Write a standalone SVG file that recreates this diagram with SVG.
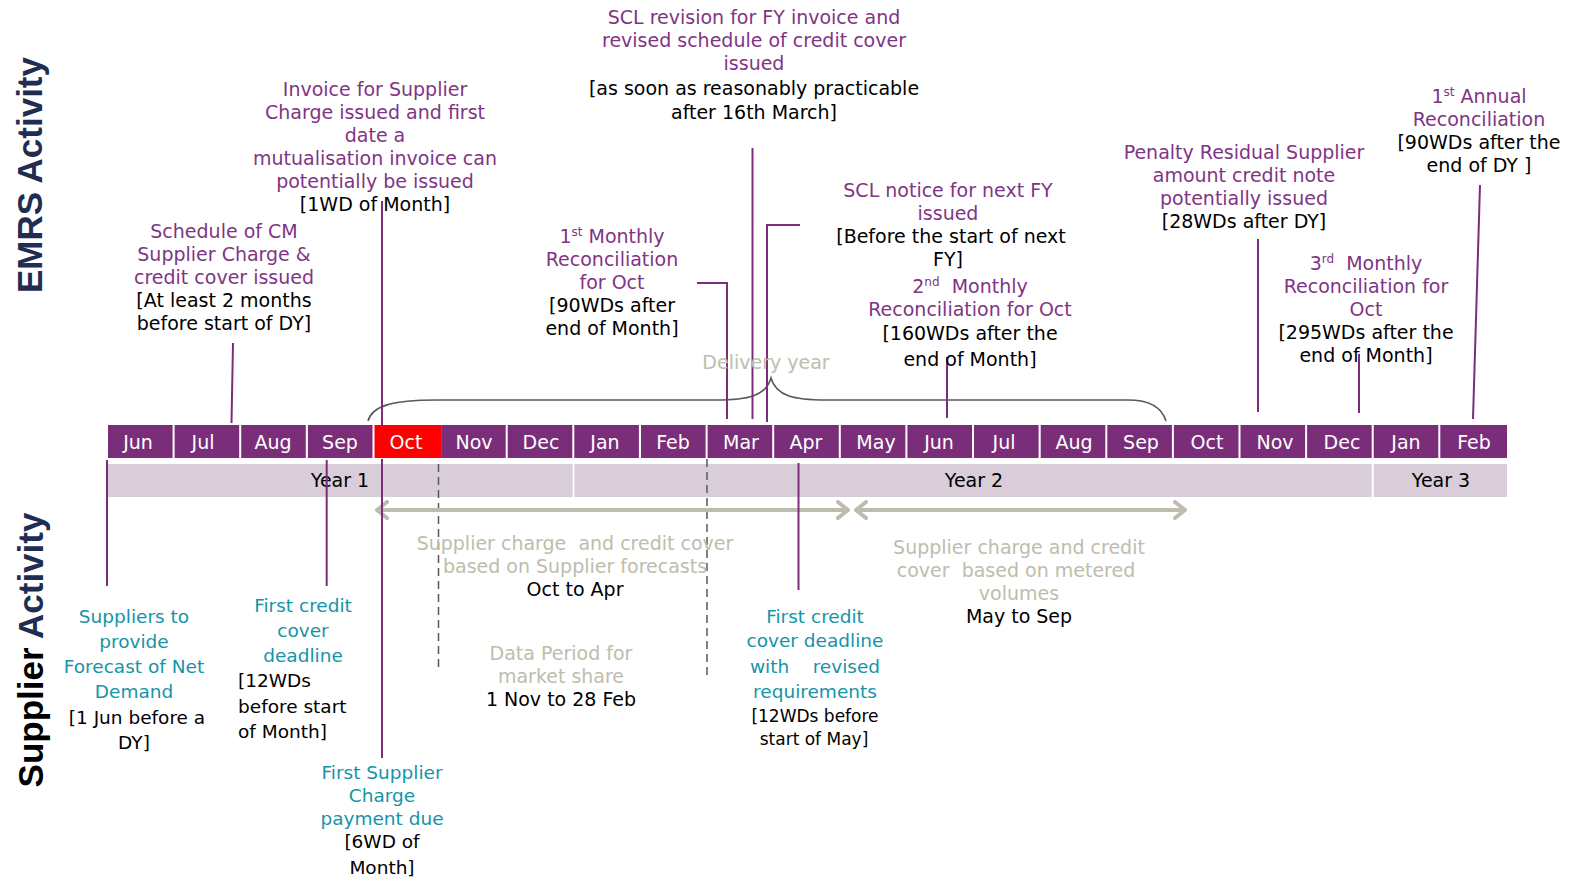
<svg xmlns="http://www.w3.org/2000/svg" width="1570" height="881" viewBox="0 0 1570 881">
<style>
text{font-family:"DejaVu Sans",Verdana,sans-serif;font-size:19px;text-anchor:middle}
.p{fill:#7f3584}.k{fill:#000}.t{fill:#1594a8;font-size:18.5px}.kt{fill:#000;font-size:18.5px}.g{fill:#bdbdad}
.m{fill:#7a2e7a}.mr{fill:#ff0000}.ml{fill:#fff}.y{fill:#d8cdd8}
.side{font-family:"Liberation Sans",Arial,sans-serif;font-weight:bold;font-size:35px}
.v{stroke:#7a2e7a;stroke-width:2;fill:none}
.br{stroke:#595959;stroke-width:1.6;fill:none}
.ds{stroke:#595959;stroke-width:1.5;stroke-dasharray:8,5;fill:none}
.ar{stroke:#bdbdad;stroke-width:4;fill:none}
.sup{font-size:12px}
</style>
<defs>
<marker id="ah" viewBox="0 0 14 20" refX="13" refY="10" markerWidth="14" markerHeight="20" markerUnits="userSpaceOnUse" orient="auto-start-reverse">
<path d="M2,2 L12,10 L2,18" fill="none" stroke="#bdbdad" stroke-width="4" stroke-linecap="round" stroke-linejoin="round"/>
</marker>
</defs>
<rect width="1570" height="881" fill="#fff"/>

<g id="side-labels">
<text class="side" transform="translate(42,175) rotate(-90)" fill="#1f2d52">EMRS Activity</text>
<text class="side" transform="translate(43,650) rotate(-90)"><tspan fill="#000">Supplier</tspan><tspan fill="#1f2d52"> Activity</tspan></text>
</g>

<g id="timeline">
<g id="months">
<rect class="m" x="108" y="425" width="64.6" height="33"/>
<rect class="m" x="174.6" y="425" width="64.6" height="33"/>
<rect class="m" x="241.2" y="425" width="64.6" height="33"/>
<rect class="m" x="307.9" y="425" width="64.6" height="33"/>
<rect class="mr" x="374.5" y="425" width="66.6" height="33"/>
<rect class="m" x="441.1" y="425" width="64.6" height="33"/>
<rect class="m" x="507.7" y="425" width="64.6" height="33"/>
<rect class="m" x="574.3" y="425" width="64.6" height="33"/>
<rect class="m" x="641" y="425" width="64.6" height="33"/>
<rect class="m" x="707.6" y="425" width="64.6" height="33"/>
<rect class="m" x="774.2" y="425" width="64.6" height="33"/>
<rect class="m" x="840.8" y="425" width="64.6" height="33"/>
<rect class="m" x="907.4" y="425" width="64.6" height="33"/>
<rect class="m" x="974" y="425" width="64.6" height="33"/>
<rect class="m" x="1040.7" y="425" width="64.6" height="33"/>
<rect class="m" x="1107.3" y="425" width="64.6" height="33"/>
<rect class="m" x="1173.9" y="425" width="64.6" height="33"/>
<rect class="m" x="1240.5" y="425" width="64.6" height="33"/>
<rect class="m" x="1307.1" y="425" width="64.6" height="33"/>
<rect class="m" x="1373.7" y="425" width="64.6" height="33"/>
<rect class="m" x="1440.3" y="425" width="66.7" height="33"/>
<text class="ml" x="138" y="449">Jun</text>
<text class="ml" x="203" y="449">Jul</text>
<text class="ml" x="273" y="449">Aug</text>
<text class="ml" x="340" y="449">Sep</text>
<text class="ml" x="406" y="449">Oct</text>
<text class="ml" x="474" y="449">Nov</text>
<text class="ml" x="541" y="449">Dec</text>
<text class="ml" x="605" y="449">Jan</text>
<text class="ml" x="673" y="449">Feb</text>
<text class="ml" x="741" y="449">Mar</text>
<text class="ml" x="806" y="449">Apr</text>
<text class="ml" x="876" y="449">May</text>
<text class="ml" x="939" y="449">Jun</text>
<text class="ml" x="1004" y="449">Jul</text>
<text class="ml" x="1074" y="449">Aug</text>
<text class="ml" x="1141" y="449">Sep</text>
<text class="ml" x="1207" y="449">Oct</text>
<text class="ml" x="1275" y="449">Nov</text>
<text class="ml" x="1342" y="449">Dec</text>
<text class="ml" x="1406" y="449">Jan</text>
<text class="ml" x="1474" y="449">Feb</text>
</g>
<g id="years">
<rect class="y" x="108" y="464" width="464.6" height="33"/>
<rect class="y" x="574.3" y="464" width="797.4" height="33"/>
<rect class="y" x="1373.7" y="464" width="133.3" height="33"/>
<text class="k" x="340" y="487">Year 1</text>
<text class="k" x="974" y="487">Year 2</text>
<text class="k" x="1441" y="487">Year 3</text>
</g>
</g>

<g id="connectors">
<path class="br" d="M368,421 C372,406 392,400 436,400 L716,400 C748,400 766,396 771,378 C776,396 794,400 826,400 L1128,400 C1150,400 1162,408 1166,421"/>
<line class="ds" x1="438.5" y1="464" x2="438.5" y2="668"/>
<line class="ds" x1="707" y1="459" x2="707" y2="678"/>
<line class="ar" x1="376" y1="510" x2="849" y2="510" marker-start="url(#ah)" marker-end="url(#ah)"/>
<line class="ar" x1="855" y1="510" x2="1186" y2="510" marker-start="url(#ah)" marker-end="url(#ah)"/>
<line class="v" x1="233" y1="343" x2="231.5" y2="423"/>
<line class="v" x1="382" y1="201" x2="382" y2="425"/>
<polyline class="v" points="697,283 727,283 727,419"/>
<line class="v" x1="752.5" y1="148" x2="752.5" y2="419"/>
<polyline class="v" points="800,225 767,225 767,422"/>
<line class="v" x1="947" y1="357" x2="947" y2="418"/>
<line class="v" x1="1258" y1="239" x2="1258" y2="412"/>
<line class="v" x1="1359" y1="354" x2="1359" y2="413"/>
<line class="v" x1="1480" y1="185" x2="1473" y2="419"/>
<line class="v" x1="107" y1="460" x2="107" y2="586"/>
<line class="v" x1="326.7" y1="460" x2="326.7" y2="586"/>
<line class="v" x1="382" y1="459" x2="382" y2="758"/>
<line class="v" x1="798.5" y1="463" x2="798.5" y2="590"/>
</g>

<g id="schedule-cm">
<text class="p"><tspan x="224" y="238">Schedule of CM</tspan><tspan x="224" y="261">Supplier Charge &amp;</tspan><tspan x="224" y="284">credit cover issued</tspan></text>
<text class="k"><tspan x="224" y="307">[At least 2 months</tspan><tspan x="224" y="330">before start of DY]</tspan></text>
</g>
<g id="invoice">
<text class="p"><tspan x="375" y="96">Invoice for Supplier</tspan><tspan x="375" y="119">Charge issued and first</tspan><tspan x="375" y="142">date a</tspan><tspan x="375" y="165">mutualisation invoice can</tspan><tspan x="375" y="188">potentially be issued</tspan></text>
<text class="k" x="375" y="211">[1WD of Month]</text>
</g>
<g id="scl-revision">
<text class="p"><tspan x="754" y="24">SCL revision for FY invoice and</tspan><tspan x="754" y="47">revised schedule of credit cover</tspan><tspan x="754" y="70">issued</tspan></text>
<text class="k"><tspan x="754" y="95">[as soon as reasonably practicable</tspan><tspan x="754" y="119">after 16th March]</tspan></text>
</g>
<g id="monthly-rec-1">
<text class="p"><tspan x="612" y="243">1<tspan class="sup" dy="-7">st</tspan><tspan dy="7"> Monthly</tspan></tspan><tspan x="612" y="266">Reconciliation</tspan><tspan x="612" y="289">for Oct</tspan></text>
<text class="k"><tspan x="612" y="312">[90WDs after</tspan><tspan x="612" y="335">end of Month]</tspan></text>
</g>
<g id="scl-notice">
<text class="p"><tspan x="948" y="197">SCL notice for next FY</tspan><tspan x="948" y="220">issued</tspan></text>
<text class="k"><tspan x="951" y="243">[Before the start of next</tspan><tspan x="948" y="266">FY]</tspan></text>
</g>
<g id="monthly-rec-2">
<text class="p" xml:space="preserve"><tspan x="970" y="293">2<tspan class="sup" dy="-7">nd</tspan><tspan dy="7">  Monthly</tspan></tspan><tspan x="970" y="316">Reconciliation for Oct</tspan></text>
<text class="k"><tspan x="970" y="340">[160WDs after the</tspan><tspan x="970" y="366">end of Month]</tspan></text>
</g>
<g id="penalty">
<text class="p"><tspan x="1244" y="159">Penalty Residual Supplier</tspan><tspan x="1244" y="182">amount credit note</tspan><tspan x="1244" y="205">potentially issued</tspan></text>
<text class="k" x="1244" y="228">[28WDs after DY]</text>
</g>
<g id="monthly-rec-3">
<text class="p" xml:space="preserve"><tspan x="1366" y="270">3<tspan class="sup" dy="-7">rd</tspan><tspan dy="7">  Monthly</tspan></tspan><tspan x="1366" y="293">Reconciliation for</tspan><tspan x="1366" y="316">Oct</tspan></text>
<text class="k"><tspan x="1366" y="339">[295WDs after the</tspan><tspan x="1366" y="362">end of Month]</tspan></text>
</g>
<g id="annual-rec">
<text class="p"><tspan x="1479" y="103">1<tspan class="sup" dy="-7">st</tspan><tspan dy="7"> Annual</tspan></tspan><tspan x="1479" y="126">Reconciliation</tspan></text>
<text class="k"><tspan x="1479" y="149">[90WDs after the</tspan><tspan x="1479" y="172">end of DY ]</tspan></text>
</g>
<g id="delivery-year">
<text class="g" x="766" y="369">Delivery year</text>
</g>

<g id="forecast">
<text class="t"><tspan x="134" y="623">Suppliers to</tspan><tspan x="134" y="648">provide</tspan><tspan x="134" y="673">Forecast of Net</tspan><tspan x="134" y="698">Demand</tspan></text>
<text class="kt"><tspan x="137" y="724">[1 Jun before a</tspan><tspan x="134" y="749">DY]</tspan></text>
</g>
<g id="first-credit">
<text class="t"><tspan x="303" y="612">First credit</tspan><tspan x="303" y="637">cover</tspan><tspan x="303" y="662">deadline</tspan></text>
<text class="kt" style="text-anchor:start"><tspan x="238" y="687">[12WDs</tspan><tspan x="238" y="713">before start</tspan><tspan x="238" y="738">of Month]</tspan></text>
</g>
<g id="first-payment">
<text class="t"><tspan x="382" y="779">First Supplier</tspan><tspan x="382" y="802">Charge</tspan><tspan x="382" y="825">payment due</tspan></text>
<text class="kt"><tspan x="382" y="848">[6WD of</tspan><tspan x="382" y="874">Month]</tspan></text>
</g>
<g id="revised-credit">
<text class="t" xml:space="preserve"><tspan x="815" y="623">First credit</tspan><tspan x="815" y="647">cover deadline</tspan><tspan x="815" y="673">with    revised</tspan><tspan x="815" y="698">requirements</tspan></text>
<text class="k" style="font-size:17px"><tspan x="815" y="722">[12WDs before</tspan><tspan x="814" y="745">start of May]</tspan></text>
</g>
<g id="forecast-period">
<text class="g" xml:space="preserve"><tspan x="575" y="550">Supplier charge  and credit cover</tspan><tspan x="575" y="573">based on Supplier forecasts</tspan></text>
<text class="k" x="575" y="596">Oct to Apr</text>
</g>
<g id="metered-period">
<text class="g" xml:space="preserve"><tspan x="1019" y="554">Supplier charge and credit</tspan><tspan x="1016" y="577">cover  based on metered</tspan><tspan x="1019" y="600">volumes</tspan></text>
<text class="k" x="1019" y="623">May to Sep</text>
</g>
<g id="data-period">
<text class="g"><tspan x="561" y="660">Data Period for</tspan><tspan x="561" y="683">market share</tspan></text>
<text class="k" x="561" y="706">1 Nov to 28 Feb</text>
</g>
</svg>
